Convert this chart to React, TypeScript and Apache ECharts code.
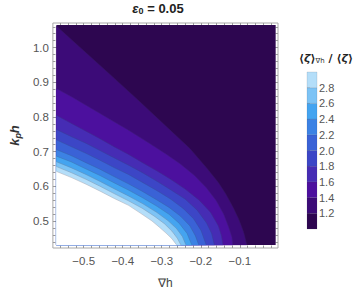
import React, { useEffect, useRef } from "react";
import * as echarts from "echarts";

// contour levels of <zeta>_grad / <zeta>
const levels = [1.2, 1.4, 1.6, 1.8, 2.0, 2.2, 2.4, 2.6, 2.8, 3.0];
// band colours from 1.0-1.2 up to 2.8-3.0 (above 3.0 is left white)
const bandColors = ["#2d0650", "#3c0b78", "#4c109e", "#462cb4", "#3c46c6", "#3a62d6", "#3c82e4", "#44a4f0", "#7cc3f5", "#b4def9"];
const colorbarEdges = [1.0, 1.2, 1.4, 1.6, 1.8, 2.0, 2.2, 2.4, 2.6, 2.8, 3.0];

// plotted domain
const dataX = [-0.57, -0.008];
const dataY = [0.431, 1.065];

// contour lines ([grad h, k_p h]); each runs from the left edge to the bottom edge
const contour12 = [[-0.570, 1.062], [-0.507, 0.998], [-0.434, 0.924], [-0.361, 0.849], [-0.289, 0.773], [-0.228, 0.709], [-0.185, 0.653], [-0.155, 0.611], [-0.136, 0.578], [-0.117, 0.539], [-0.102, 0.503], [-0.090, 0.467], [-0.082, 0.431]];
const contour14 = [[-0.570, 0.882], [-0.531, 0.858], [-0.482, 0.826], [-0.434, 0.794], [-0.385, 0.762], [-0.337, 0.728], [-0.289, 0.693], [-0.252, 0.664], [-0.216, 0.631], [-0.185, 0.595], [-0.160, 0.558], [-0.141, 0.519], [-0.128, 0.481], [-0.120, 0.453], [-0.118, 0.431]];
const contour16 = [[-0.570, 0.805], [-0.531, 0.781], [-0.494, 0.759], [-0.458, 0.737], [-0.422, 0.714], [-0.385, 0.692], [-0.349, 0.668], [-0.313, 0.645], [-0.277, 0.620], [-0.240, 0.592], [-0.204, 0.560], [-0.175, 0.525], [-0.155, 0.486], [-0.147, 0.458], [-0.143, 0.431]];
const contour18 = [[-0.570, 0.764], [-0.531, 0.743], [-0.494, 0.724], [-0.458, 0.703], [-0.422, 0.682], [-0.385, 0.661], [-0.349, 0.639], [-0.313, 0.615], [-0.277, 0.590], [-0.240, 0.563], [-0.209, 0.531], [-0.185, 0.494], [-0.172, 0.464], [-0.165, 0.431]];
const contour20 = [[-0.570, 0.734], [-0.531, 0.714], [-0.494, 0.695], [-0.458, 0.675], [-0.422, 0.654], [-0.385, 0.634], [-0.349, 0.611], [-0.313, 0.588], [-0.277, 0.563], [-0.245, 0.536], [-0.218, 0.506], [-0.199, 0.472], [-0.186, 0.431]];
const contour22 = [[-0.570, 0.706], [-0.531, 0.688], [-0.494, 0.668], [-0.458, 0.649], [-0.422, 0.628], [-0.385, 0.607], [-0.349, 0.585], [-0.313, 0.561], [-0.281, 0.539], [-0.252, 0.514], [-0.228, 0.486], [-0.214, 0.458], [-0.205, 0.431]];
const contour24 = [[-0.570, 0.687], [-0.531, 0.670], [-0.494, 0.650], [-0.458, 0.631], [-0.422, 0.610], [-0.385, 0.589], [-0.349, 0.567], [-0.313, 0.543], [-0.281, 0.519], [-0.255, 0.493], [-0.235, 0.464], [-0.223, 0.431]];
const contour26 = [[-0.570, 0.671], [-0.531, 0.653], [-0.494, 0.634], [-0.458, 0.614], [-0.422, 0.593], [-0.385, 0.572], [-0.349, 0.550], [-0.313, 0.525], [-0.284, 0.501], [-0.262, 0.478], [-0.247, 0.455], [-0.238, 0.431]];
const contour28 = [[-0.570, 0.657], [-0.531, 0.639], [-0.494, 0.620], [-0.458, 0.600], [-0.422, 0.579], [-0.385, 0.558], [-0.349, 0.536], [-0.318, 0.513], [-0.293, 0.492], [-0.274, 0.471], [-0.260, 0.450], [-0.251, 0.431]];
const contour30 = [[-0.570, 0.643], [-0.531, 0.625], [-0.494, 0.606], [-0.458, 0.586], [-0.422, 0.565], [-0.385, 0.545], [-0.354, 0.522], [-0.325, 0.500], [-0.306, 0.482], [-0.289, 0.465], [-0.274, 0.449], [-0.262, 0.431]];
const contours = [contour12, contour14, contour16, contour18, contour20, contour22, contour24, contour26, contour28, contour30];

// ticks
const xMajor = [-0.5, -0.4, -0.3, -0.2, -0.1];
const xMinor = [-0.56, -0.54, -0.52, -0.48, -0.46, -0.44, -0.42, -0.38, -0.36, -0.34, -0.32, -0.28, -0.26, -0.24, -0.22, -0.18, -0.16, -0.14, -0.12, -0.08, -0.06, -0.04, -0.02];
const yMajor = [0.5, 0.6, 0.7, 0.8, 0.9, 1.0];
const yMinor = [0.44, 0.46, 0.48, 0.52, 0.54, 0.56, 0.58, 0.62, 0.64, 0.66, 0.68, 0.72, 0.74, 0.76, 0.78, 0.82, 0.84, 0.86, 0.88, 0.92, 0.94, 0.96, 0.98, 1.02, 1.04, 1.06];
const barTicks = [1.2, 1.4, 1.6, 1.8, 2.0, 2.2, 2.4, 2.6, 2.8];

const X_MIN = -0.579, X_MAX = -0.002, Y_MIN = 0.422, Y_MAX = 1.071;
const FONT = "Liberation Sans, Arial, sans-serif";
const TICK = "#9a9a9a";
const LABEL = "#555555";

const fmtX = (v: number) => (v < 0 ? "\u2212" : "") + Math.abs(v).toFixed(1);

function tickAxis(kind: "x" | "y", pos: string, values: number[], len: number, labels: boolean, extra: any = {}) {
  const isX = kind === "x";
  return {
    gridIndex: 0,
    type: "value",
    min: isX ? X_MIN : Y_MIN,
    max: isX ? X_MAX : Y_MAX,
    position: pos,
    axisLine: { show: false },
    splitLine: { show: false },
    axisTick: { show: true, inside: true, length: len, customValues: values, lineStyle: { color: TICK, width: 1 } },
    axisLabel: labels
      ? { show: true, customValues: values, formatter: isX ? fmtX : (v: number) => v.toFixed(1), color: LABEL, fontSize: 11.5, fontFamily: FONT, margin: isX ? 7 : 4 }
      : { show: false },
    ...extra,
  };
}

export default function App() {
  const ref = useRef<HTMLDivElement>(null);
  useEffect(() => {
    if (!ref.current) return;
    const chart = echarts.init(ref.current, undefined, { renderer: "svg" });
    const layerData = [[0]].concat(contours.map((_, i) => [i + 1]));
    const barData = colorbarEdges.slice(0, -1).map((lo, i) => [0, lo, colorbarEdges[i + 1], i]);

    chart.setOption({
      animation: false,
      backgroundColor: "#ffffff",
      textStyle: { fontFamily: FONT },
      grid: [
        { left: 40, top: 23, right: 79, bottom: 38, show: true, borderColor: "#a8a8a8", borderWidth: 1, backgroundColor: "transparent" },
        { left: 307, top: 72, width: 10, height: 157, show: false },
      ],
      xAxis: [
        tickAxis("x", "bottom", xMajor, 4, true, {
          name: "\u2207h",
          nameLocation: "middle",
          nameGap: 29,
          nameTextStyle: { color: "#444", fontSize: 12, fontFamily: FONT },
        }),
        tickAxis("x", "bottom", xMinor, 2.5, false),
        tickAxis("x", "top", xMajor, 4, false),
        tickAxis("x", "top", xMinor, 2.5, false),
        { gridIndex: 1, type: "value", min: 0, max: 1, show: false },
      ],
      yAxis: [
        tickAxis("y", "left", yMajor, 4, true, {
          name: "{k|k}{p|p}{h|h}",
          nameLocation: "middle",
          nameGap: 27,
          nameRotate: 90,
          nameTextStyle: {
            rich: {
              k: { fontSize: 13, fontWeight: "bold", fontStyle: "italic", color: "#333", fontFamily: FONT },
              p: { fontSize: 9, fontWeight: "bold", fontStyle: "italic", color: "#333", fontFamily: FONT, padding: [6, 0, 0, 0] },
              h: { fontSize: 13, fontWeight: "bold", fontStyle: "italic", color: "#333", fontFamily: FONT },
            },
          },
        }),
        tickAxis("y", "left", yMinor, 2.5, false),
        tickAxis("y", "right", yMajor, 4, false),
        tickAxis("y", "right", yMinor, 2.5, false),
        {
          gridIndex: 1,
          type: "value",
          min: 1.0,
          max: 3.0,
          position: "right",
          axisLine: { show: false },
          splitLine: { show: false },
          axisTick: { show: true, inside: false, length: 3, customValues: barTicks, lineStyle: { color: TICK } },
          axisLabel: { show: true, customValues: barTicks, formatter: (v: number) => v.toFixed(1), color: LABEL, fontSize: 11, fontFamily: FONT, margin: 2 },
        },
      ],
      graphic: [
        {
          type: "text",
          x: 158,
          y: 8,
          style: {
            text: "{e|\u03B5}{s|0}{n| = 0.05}",
            align: "center",
            verticalAlign: "middle",
            rich: {
              e: { fontSize: 13, fontWeight: "bold", fontStyle: "italic", fill: "#222", fontFamily: FONT },
              s: { fontSize: 9, fontWeight: "bold", fill: "#222", fontFamily: FONT, padding: [6, 0, 0, 0] },
              n: { fontSize: 13, fontWeight: "bold", fill: "#222", fontFamily: FONT },
            },
          },
        },
        {
          type: "text",
          x: 326,
          y: 58,
          style: {
            text: "{a|\u27E8}{z|\u03B6}{a|\u27E9}{s|\u2207h}{a| / \u27E8}{z|\u03B6}{a|\u27E9}",
            align: "center",
            verticalAlign: "middle",
            rich: {
              a: { fontSize: 11, fontWeight: "bold", fill: "#222", fontFamily: "DejaVu Sans" },
              z: { fontSize: 11, fontWeight: "bold", fontStyle: "italic", fill: "#222", fontFamily: "DejaVu Sans" },
              s: { fontSize: 7, fill: "#333", fontFamily: "DejaVu Sans", padding: [5, 0, 0, 0] },
            },
          },
        },
      ],
      series: [
        {
          type: "custom",
          coordinateSystem: "cartesian2d",
          xAxisIndex: 0,
          yAxisIndex: 0,
          silent: true,
          data: layerData,
          renderItem: (params: any, api: any) => {
            const i = api.value(0);
            if (i === 0) {
              const pts = [
                api.coord([dataX[0], dataY[1]]),
                api.coord([dataX[1], dataY[1]]),
                api.coord([dataX[1], dataY[0]]),
                api.coord([dataX[0], dataY[0]]),
              ];
              return { type: "polygon", shape: { points: pts }, style: { fill: bandColors[0] } };
            }
            const line = contours[i - 1].map((p) => api.coord(p));
            const poly = line.concat([api.coord([dataX[0], dataY[0]])]);
            const fill = i < bandColors.length ? bandColors[i] : "#ffffff";
            return {
              type: "group",
              children: [
                { type: "polygon", shape: { points: poly }, style: { fill, stroke: fill, lineWidth: 0.4 } },
                { type: "polyline", shape: { points: line }, style: { fill: null, stroke: "rgba(50,50,70,0.35)", lineWidth: 0.6 } },
              ],
            };
          },
        },
        {
          type: "custom",
          coordinateSystem: "cartesian2d",
          xAxisIndex: 4,
          yAxisIndex: 4,
          silent: true,
          data: barData,
          renderItem: (params: any, api: any) => {
            const lo = api.value(1);
            const hi = api.value(2);
            const idx = api.value(3);
            const a = api.coord([0, hi]);
            const b = api.coord([1, lo]);
            return {
              type: "rect",
              shape: { x: a[0], y: a[1], width: b[0] - a[0], height: b[1] - a[1] },
              style: { fill: bandColors[idx], stroke: "rgba(60,60,80,0.25)", lineWidth: 0.5 },
            };
          },
        },
      ],
    });
    return () => chart.dispose();
  }, []);
  return <div ref={ref} style={{ width: 357, height: 294, position: "absolute", left: 0, top: 0 }} />;
}
